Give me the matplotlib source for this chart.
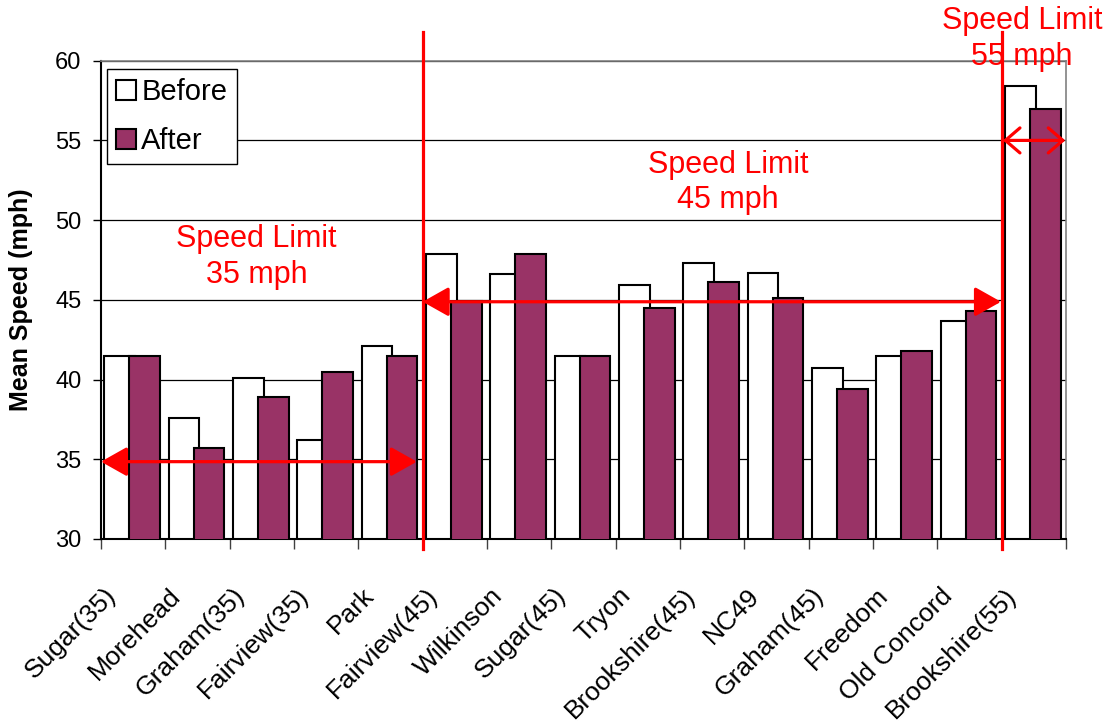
import numpy as np
import matplotlib
matplotlib.use("Agg")
import matplotlib.pyplot as plt
from matplotlib.patches import ArrowStyle
from matplotlib.transforms import ScaledTranslation

plt.rcParams['font.family'] = ['Liberation Sans', 'DejaVu Sans']

# data
streets = ['Sugar(35)', 'Morehead', 'Graham(35)', 'Fairview(35)', 'Park',
           'Fairview(45)', 'Wilkinson', 'Sugar(45)', 'Tryon', 'Brookshire(45)',
           'NC49', 'Graham(45)', 'Freedom', 'Old Concord', 'Brookshire(55)']
before = [41.5, 37.6, 40.1, 36.2, 42.1, 47.9, 46.6, 41.5, 45.9, 47.3,
          46.7, 40.7, 41.5, 43.7, 58.4]
after = [41.5, 35.7, 38.9, 40.5, 41.5, 44.9, 47.9, 41.5, 44.5, 46.1,
         45.1, 39.4, 41.8, 44.3, 57.0]
limits = [35, 45, 55]
# index of the first street in each speed limit group
group_start = [0, 5, 14]

plum = '#993366'
red = '#ff0000'

fig = plt.figure(figsize=(11.12, 7.26), dpi=100)
ax = fig.add_axes([0.0908, 0.2576, 0.8678, 0.6588])

x = np.arange(len(streets))
w = 0.48
ax.bar(x - 0.21, before, w, color='white', edgecolor='black', linewidth=1.5,
       label='Before', zorder=2)
ax.bar(x + 0.18, after, w, color=plum, edgecolor='black', linewidth=1.5,
       label='After', zorder=3)

ax.set_xlim(-0.5, len(streets) - 0.5)
ax.set_ylim(30, 60)
ax.set_yticks(np.arange(30, 61, 5))
ax.yaxis.grid(True, color='black', linewidth=0.9)
ax.set_axisbelow(True)

ax.set_xticks(np.arange(-0.5, len(streets), 1))
ax.set_xticklabels([])
ax.set_xticks(x, minor=True)
ax.set_xticklabels(streets, minor=True, rotation=45, ha='right',
                   rotation_mode='anchor', fontsize=19)
ax.tick_params(axis='x', which='major', length=7, width=1, color='#404040')
ax.tick_params(axis='x', which='minor', length=0, pad=32)
ax.tick_params(axis='y', length=5.8, width=1, pad=8.3, labelsize=17)
shift = ScaledTranslation(-21 / 72, 0, fig.dpi_scale_trans)
for lbl in ax.get_xticklabels(minor=True):
    lbl.set_transform(lbl.get_transform() + shift)

for s in ['top', 'right']:
    ax.spines[s].set_color('#808080')
    ax.spines[s].set_linewidth(1.2)
for s in ['left', 'bottom']:
    ax.spines[s].set_linewidth(1.5)

ax.set_ylabel('Mean Speed (mph)', fontsize=18, fontweight='bold')
ax.yaxis.set_label_coords(-0.0705, 0.5)

leg = ax.legend(loc='upper left', bbox_to_anchor=(0.006, 0.983), borderaxespad=0,
                fontsize=21, fancybox=False, framealpha=1, edgecolor='black',
                handlelength=0.68, handleheight=0.68, handletextpad=0.18,
                labelspacing=0.72, borderpad=0.32)
leg.get_frame().set_linewidth(1.0)

# speed limit zones
for b in group_start[1:]:
    ax.plot([b - 0.5, b - 0.5], [29.35, 61.8], color=red, linewidth=2.3,
            clip_on=False, zorder=5)

filled = ArrowStyle('<|-|>', head_length=0.8, head_width=0.45)
ax.annotate('', xy=(4.41, 34.85), xytext=(-0.5, 34.85),
            arrowprops=dict(arrowstyle=filled, color=red, lw=2.3,
                            shrinkA=0, shrinkB=0, mutation_scale=20), zorder=6)
ax.annotate('', xy=(13.49, 44.88), xytext=(4.5, 44.88),
            arrowprops=dict(arrowstyle=filled, color=red, lw=2.3,
                            shrinkA=0, shrinkB=0, mutation_scale=20), zorder=6)
ax.annotate('', xy=(14.49, 55), xytext=(13.52, 55),
            arrowprops=dict(arrowstyle=ArrowStyle('<->', head_length=0.7, head_width=0.6),
                            color=red, lw=2.3, shrinkA=0, shrinkB=0,
                            mutation_scale=15), zorder=6)

label_pos = [(1.92, 46.03), (9.25, 50.73), (13.82, 59.73)]
for lim, (tx, ty) in zip(limits, label_pos):
    ax.text(tx, ty, f'Speed Limit\n{lim} mph', color=red, fontsize=22,
            ha='center', va='baseline', linespacing=1.26, clip_on=False, zorder=7)

fig.savefig('out.png', dpi=100)
